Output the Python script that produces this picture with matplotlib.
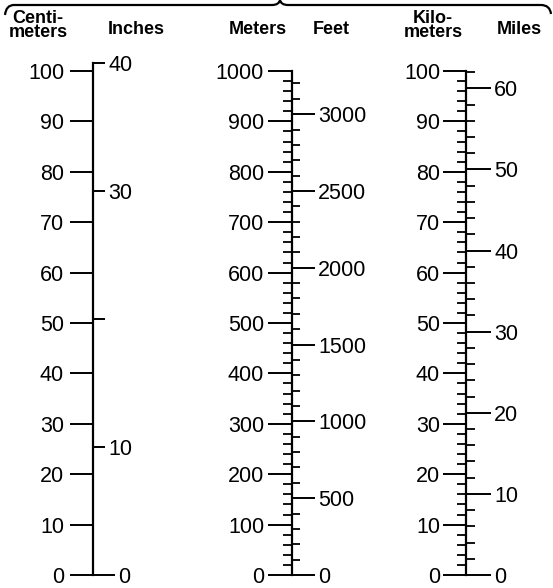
import matplotlib
matplotlib.use("Agg")
import matplotlib.pyplot as plt
from matplotlib.ticker import FixedLocator, FixedFormatter, MultipleLocator
from matplotlib.path import Path
from matplotlib.patches import PathPatch

# scale values
cm_ticks = [0, 10, 20, 30, 40, 50, 60, 70, 80, 90, 100]
inch_ticks = [10, 20, 30, 40]
inch_labels = ["10", "", "30", "40"]
inch_zero = [0]
m_ticks = [0, 100, 200, 300, 400, 500, 600, 700, 800, 900, 1000]
ft_ticks = [0, 500, 1000, 1500, 2000, 2500, 3000]
km_ticks = [0, 10, 20, 30, 40, 50, 60, 70, 80, 90, 100]
mi_ticks = [0, 10, 20, 30, 40, 50, 60]

headers = ["Centi-\nmeters", "Inches", "Meters", "Feet", "Kilo-\nmeters", "Miles"]

CM_PER_IN = 2.54
FT_PER_M = 3.28084
KM_PER_MI = 1.609344

W, H = 553, 588
PT = 0.72  # points per pixel at 100 dpi
NUM = 15.5
FONT = "Liberation Sans"
TOP, BOT = 71, 575
PX_PER_CM = (BOT - TOP) / 100

fig = plt.figure(figsize=(W / 100, H / 100), dpi=100)

# overlay in pixel units for the brace and the headers
bg = fig.add_axes([0, 0, 1, 1])
bg.set_xlim(0, W)
bg.set_ylim(H, 0)
bg.axis("off")

verts = [(5, 15), (6, 5), (14, 5), (272, 5), (279, 5), (280, 0),
         (281, 5), (288, 5), (541, 5), (550, 5), (551, 14)]
codes = [Path.MOVETO, Path.CURVE3, Path.CURVE3, Path.LINETO, Path.CURVE3, Path.CURVE3,
         Path.CURVE3, Path.CURVE3, Path.LINETO, Path.CURVE3, Path.CURVE3]
bg.add_patch(PathPatch(Path(verts, codes), fill=False, lw=1.6, color="black"))

hx = [38, 136, 258, 331, 433, 519]
for txt, x in zip(headers, hx):
    bg.text(x, 25.5 if "\n" in txt else 29, txt, ha="center", va="center",
            fontsize=13, fontweight="bold", family=FONT, linespacing=0.7)


def scale_axes(x_px, top_px, bottom_px):
    ax = fig.add_axes([x_px / W, (H - bottom_px) / H, 1e-4, (bottom_px - top_px) / H])
    ax.patch.set_visible(False)
    for s in ["top", "bottom", "right"]:
        ax.spines[s].set_visible(False)
    ax.spines["left"].set_linewidth(1.6)
    ax.set_xticks([])
    return ax


def right_twin(ax, lo, hi):
    tw = ax.twinx()
    tw.set_ylim(lo, hi)
    for s in ["top", "bottom", "left", "right"]:
        tw.spines[s].set_visible(False)
    return tw


# centimeters / inches
cm_top = 40 * CM_PER_IN
ax1 = scale_axes(93, BOT - cm_top * PX_PER_CM, BOT)
ax1.set_ylim(0, cm_top)
ax1.yaxis.set_major_locator(FixedLocator(cm_ticks))
ax1.tick_params(axis="y", which="major", length=23 * PT, width=1.4, pad=6 * PT, labelsize=NUM)
tw1 = right_twin(ax1, 0, 40)
tw1.yaxis.set_major_locator(FixedLocator(inch_ticks))
tw1.yaxis.set_major_formatter(FixedFormatter(inch_labels))
tw1.yaxis.set_minor_locator(FixedLocator(inch_zero))
tw1.yaxis.set_minor_formatter(FixedFormatter(["0"]))
tw1.tick_params(axis="y", which="major", length=12 * PT, width=1.4, pad=3 * PT, labelsize=NUM)
tw1.tick_params(axis="y", which="minor", length=22 * PT, width=1.4, pad=3 * PT, labelsize=NUM)

# meters / feet
ax2 = scale_axes(292, TOP, BOT)
ax2.set_ylim(0, 1000)
ax2.yaxis.set_major_locator(FixedLocator(m_ticks))
ax2.yaxis.set_minor_locator(MultipleLocator(20))
ax2.tick_params(axis="y", which="major", length=24 * PT, width=1.4, pad=4 * PT, labelsize=NUM)
ax2.tick_params(axis="y", which="minor", length=9 * PT, width=1.3)
tw2 = right_twin(ax2, 0, 1000 * FT_PER_M)
tw2.yaxis.set_major_locator(FixedLocator(ft_ticks))
tw2.yaxis.set_minor_locator(MultipleLocator(100))
tw2.tick_params(axis="y", which="major", length=23 * PT, width=1.4, pad=3 * PT, labelsize=NUM)
tw2.tick_params(axis="y", which="minor", length=8 * PT, width=1.3)

# kilometers / miles
ax3 = scale_axes(466, TOP, BOT)
ax3.set_ylim(0, 100)
ax3.yaxis.set_major_locator(FixedLocator(km_ticks))
ax3.yaxis.set_minor_locator(MultipleLocator(2))
ax3.tick_params(axis="y", which="major", length=23 * PT, width=1.4, pad=3 * PT, labelsize=NUM)
ax3.tick_params(axis="y", which="minor", length=9 * PT, width=1.3)
tw3 = right_twin(ax3, 0, 100 / KM_PER_MI)
tw3.yaxis.set_major_locator(FixedLocator(mi_ticks))
tw3.yaxis.set_minor_locator(MultipleLocator(2))
tw3.tick_params(axis="y", which="major", length=25 * PT, width=1.4, pad=3 * PT, labelsize=NUM)
tw3.tick_params(axis="y", which="minor", length=9 * PT, width=1.3)

for a in [ax1, tw1, ax2, tw2, ax3, tw3]:
    for lab in a.yaxis.get_ticklabels(which="both"):
        lab.set_family(FONT)

fig.savefig("out.png", dpi=100)
